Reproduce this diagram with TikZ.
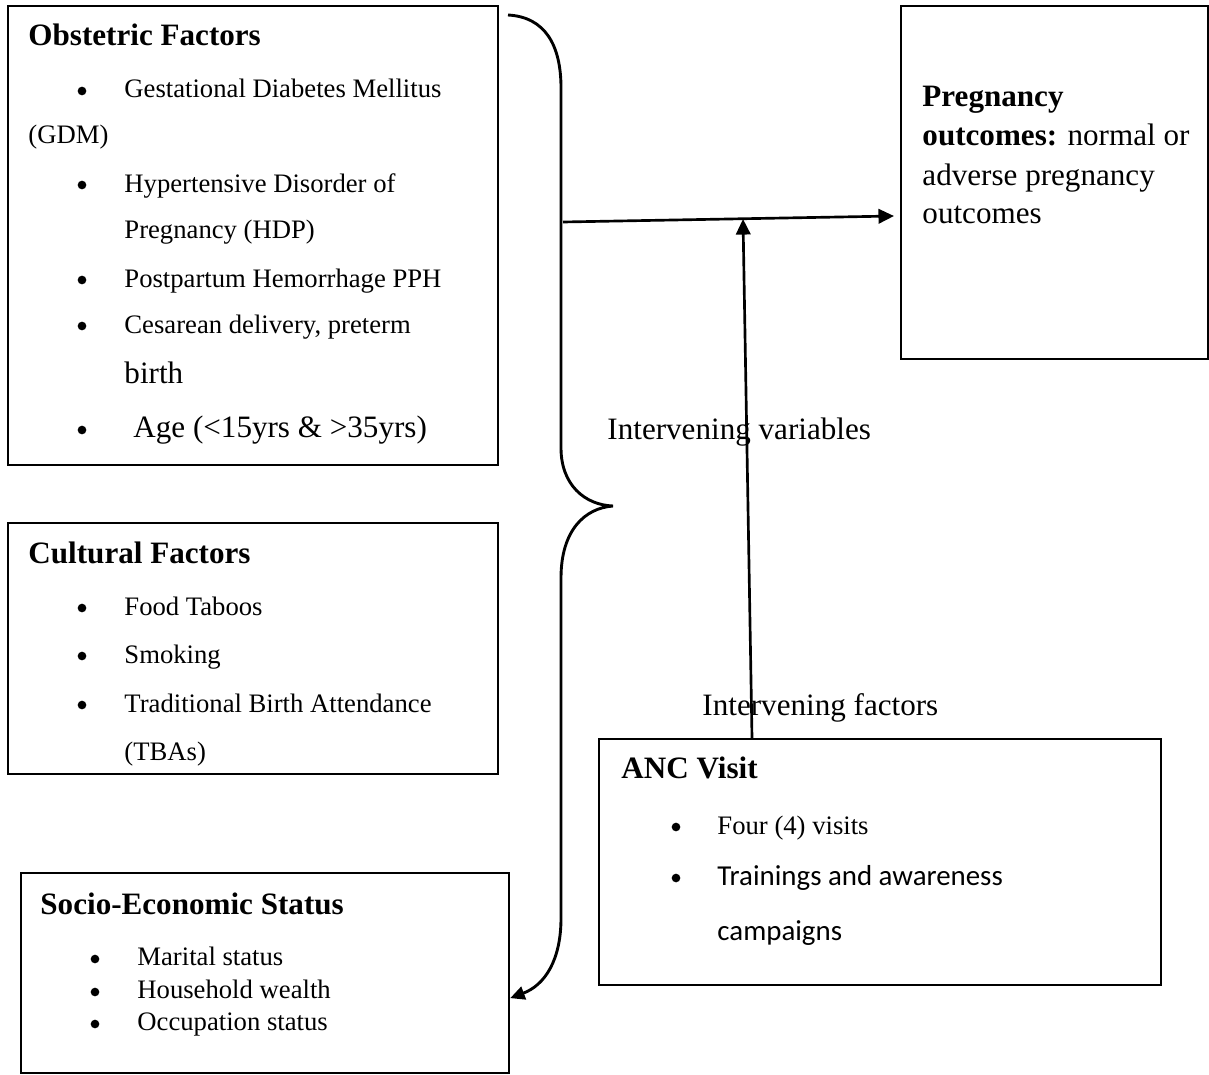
\documentclass[tikz,border=0pt]{standalone}
\usepackage{fontspec}
\setmainfont{Liberation Serif}
\newfontfamily\calibri{Carlito}
\usetikzlibrary{arrows.meta, positioning, calc}
\tikzset{%
	box/.style={draw, rectangle, line width=1pt, anchor=north west, inner sep=0mm},
	head/.style={anchor=base west, inner sep=0mm, font=\fontsize{14}{16}\selectfont\bfseries},
	item/.style={anchor=base west, inner sep=0mm, font=\fontsize{12}{14}\selectfont},
	big/.style={anchor=base west, inner sep=0mm, font=\fontsize{14}{16}\selectfont},
	dot/.style={circle, fill=black, minimum size=3.9pt, inner sep=0mm},
	sel/.style={line width=1.2pt, -{Triangle[length=7pt, width=6.5pt]}},
	brace/.style={line width=1.3pt, -{Triangle[length=6.5pt, width=6pt]}}
}

\begin{document}
\begin{tikzpicture}[x=0.45pt, y=-0.45pt]
	\useasboundingbox (0,0) rectangle (1209,1074);

	% boxes
	\node[box, minimum width=220.5pt, minimum height=206.55pt] (obst) at (7,5) {};
	\node[box, minimum width=220.5pt, minimum height=112.95pt] (cult) at (7,522) {};
	\node[box, minimum width=219.6pt, minimum height=90pt] (socio) at (20,872) {};
	\node[box, minimum width=252.9pt, minimum height=110.7pt] (anc) at (598,738) {};
	\node[box, minimum width=138.15pt, minimum height=158.85pt] (preg) at (900,5) {};

	% obstetric factors
	\node[head] (ohead) at (28,46) {Obstetric Factors};
	\foreach \y in {98,192,287,333,437}
		\node[dot] (ob\y) at (82,\y-7) {};
	\node[item] (o1) at (124,98) {Gestational Diabetes Mellitus};
	\node[item] (o2) at (28,143) {(GDM)};
	\node[item] (o3) at (124,192) {Hypertensive Disorder of};
	\node[item] (o4) at (124,238) {Pregnancy (HDP)};
	\node[item] (o5) at (124,287) {Postpartum Hemorrhage PPH};
	\node[item] (o6) at (124,333) {Cesarean delivery, preterm};
	\node[big] (o7) at (124,383) {birth};
	\node[big] (o8) at (133,437) {Age (<15yrs \& >35yrs)};

	% cultural factors
	\node[head] (chead) at (28,563) {Cultural Factors};
	\foreach \y in {615,663,712}
		\node[dot] (cb\y) at (82,\y-7) {};
	\node[item] (c1) at (124,615) {Food Taboos};
	\node[item] (c2) at (124,663) {Smoking};
	\node[item] (c3) at (124,712) {Traditional Birth Attendance};
	\node[item] (c4) at (124,760) {(TBAs)};

	% socio-economic status
	\node[head] (shead) at (40,914) {Socio-Economic Status};
	\foreach \y in {965,998,1030}
		\node[dot] (sb\y) at (95,\y-6) {};
	\node[item] (s1) at (137,965) {Marital status};
	\node[item] (s2) at (137,998) {Household wealth};
	\node[item] (s3) at (137,1030) {Occupation status};

	% pregnancy outcomes
	\node[big] (p1) at (922,107) {\textbf{Pregnancy}};
	\node[big] (p2) at (922,145) {\textbf{outcomes:} normal or};
	\node[big] (p3) at (922,185) {adverse pregnancy};
	\node[big] (p4) at (922,223) {outcomes};

	% anc visit
	\node[head] (ahead) at (621,778) {ANC Visit};
	\foreach \y in {834,885}
		\node[dot] (ab\y) at (676,\y-7) {};
	\node[item] (a1) at (717,834) {Four (4) visits};
	\node[item, font=\fontsize{13}{15}\selectfont\calibri] (a2) at (717,885) {Trainings and awareness};
	\node[item, font=\fontsize{13}{15}\selectfont\calibri] (a3) at (717,940) {campaigns};

	% labels
	\node[big] (ivar) at (607,439) {Intervening variables};
	\node[big] (ifac) at (702,715) {Intervening factors};

	% connectors
	\coordinate (bracetop) at (508,15);
	\coordinate (bracetip) at (613,506);
	\coordinate (split) at (563,222);
	\coordinate (goal) at (894,216);
	\coordinate (join) at (743,219);
	\coordinate (ancin) at (752,738);

	\draw[brace] (bracetop) .. controls (545,17) and (561,45) .. (561,88) -- (561,448)
		.. controls (561,485) and (585,505) .. (bracetip)
		.. controls (585,508) and (561,530) .. (561,578) -- (561,918)
		.. controls (561,960) and (545,985) .. ([yshift=-11.25pt]socio.east);
	\draw[sel] (split) -- (goal);
	\draw[sel] (ancin) -- (join);
\end{tikzpicture}
\end{document}
